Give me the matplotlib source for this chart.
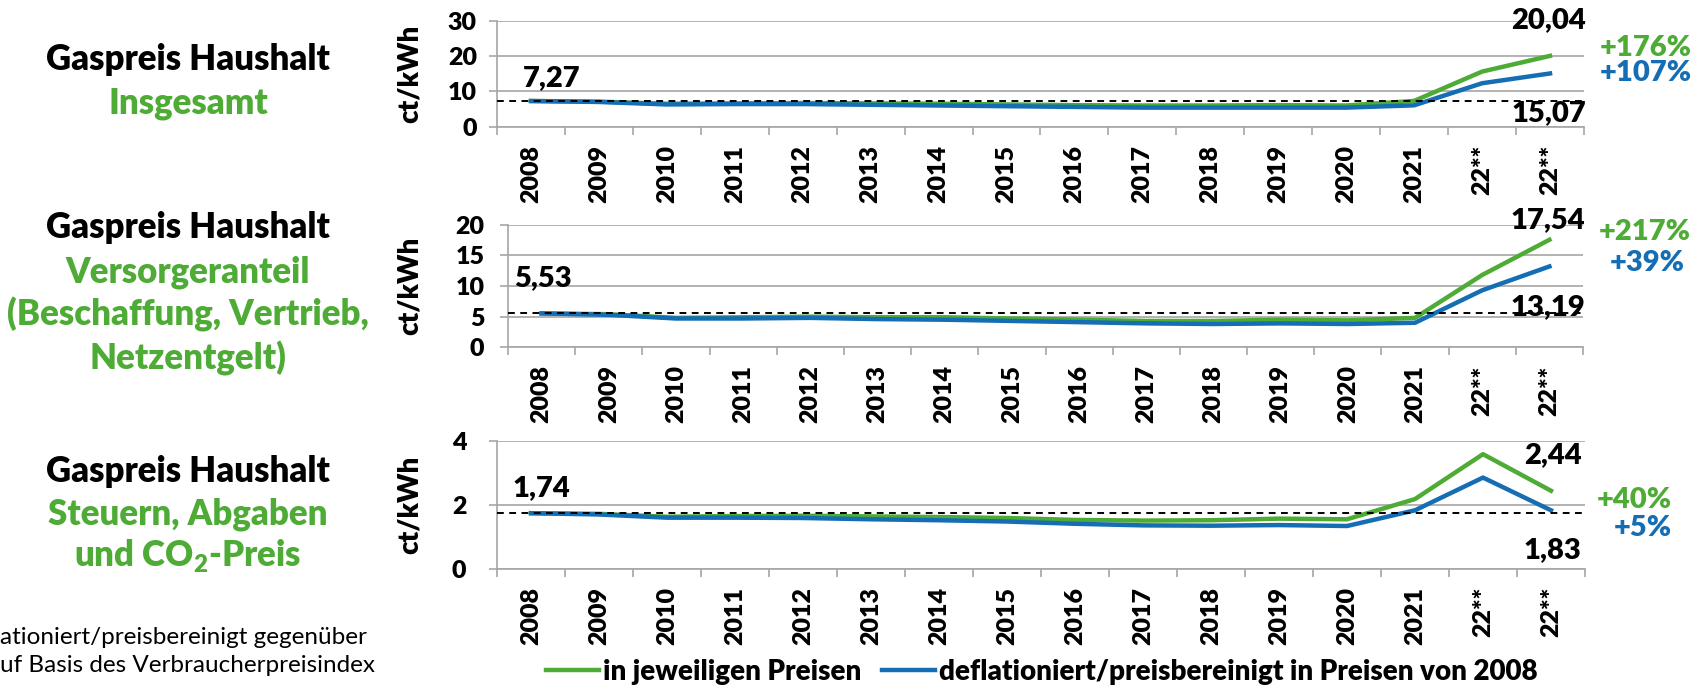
import numpy as np
import matplotlib
matplotlib.use("Agg")
import matplotlib.pyplot as plt

BOLD = 'heavy'
plt.rcParams['font.family'] = ['Lato', 'DejaVu Sans']
plt.rcParams['font.weight'] = BOLD
plt.rcParams['mathtext.fontset'] = 'custom'
plt.rcParams['mathtext.rm'] = 'Lato'
plt.rcParams['mathtext.bf'] = 'Lato:heavy'

# categories
years = ['2008', '2009', '2010', '2011', '2012', '2013', '2014', '2015',
         '2016', '2017', '2018', '2019', '2020', '2021', '22**', '22**']

# Insgesamt
total_nom = [7.27, 7.1, 6.5, 6.6, 6.7, 6.6, 6.5, 6.3, 6.1, 6.0, 6.0, 6.1, 6.0, 7.3, 15.6, 20.04]
total_real = [7.27, 7.0, 6.3, 6.4, 6.4, 6.2, 6.0, 5.8, 5.6, 5.4, 5.4, 5.4, 5.4, 6.05, 12.3, 15.07]

# Versorgeranteil
supp_nom = [5.53, 5.4, 4.8, 4.9, 5.0, 4.9, 4.9, 4.7, 4.5, 4.3, 4.3, 4.5, 4.4, 4.8, 11.8, 17.54]
supp_real = [5.53, 5.3, 4.7, 4.7, 4.8, 4.6, 4.5, 4.3, 4.1, 3.9, 3.8, 3.9, 3.8, 4.0, 9.3, 13.19]

# Steuern, Abgaben, CO2
tax_nom = [1.74, 1.72, 1.63, 1.65, 1.66, 1.64, 1.62, 1.59, 1.53, 1.51, 1.52, 1.57, 1.55, 2.18, 3.58, 2.44]
tax_real = [1.74, 1.70, 1.60, 1.60, 1.59, 1.55, 1.52, 1.48, 1.41, 1.36, 1.35, 1.37, 1.34, 1.83, 2.85, 1.83]

green = '#4EAB35'
blue = '#156DB4'
grey = '#A6A6A6'

W, H = 1691, 687
fig = plt.figure(figsize=(W / 100, H / 100), dpi=100)


def px_axes(l, r, t, b):
    return fig.add_axes([l / W, 1 - b / H, (r - l) / W, (b - t) / H])


panels = [
    dict(box=(497, 1584, 20.7, 126.7), nom=total_nom, real=total_real, ymax=30, yt=[0, 10, 20, 30],
         ypad=8.5, first='7,27', first_off=(-5.8, 16.6), nom_lbl='20,04', nom_off=(26, 26),
         real_lbl='15,07', real_off=(26, -28.4),
         pct_nom='+176%', pn_off=(69, 5.8), pct_real='+107%', pr_off=(69, 0), pct_ha='center'),
    dict(box=(508, 1583, 224.7, 347.3), nom=supp_nom, real=supp_real, ymax=20, yt=[0, 5, 10, 15, 20],
         ypad=11, first='5,53', first_off=(-19.9, 25.5), nom_lbl='17,54', nom_off=(25.5, 14.3),
         real_lbl='13,19', real_off=(25.5, -29.2),
         pct_nom='+217%', pn_off=(68.7, 5.6), pct_real='+39%', pr_off=(70.8, 2.4), pct_ha='center'),
    dict(box=(497, 1585, 440.7, 569), nom=tax_nom, real=tax_real, ymax=4, yt=[0, 2, 4],
         ypad=16, first='1,74', first_off=(-13, 18.1), nom_lbl='2,44', nom_off=(22, 25.7),
         real_lbl='1,83', real_off=(22, -28.6),
         pct_nom='+40%', pn_off=(87, -6.7), pct_real='+5%', pr_off=(87, -12.7), pct_ha='right'),
]

x = np.arange(len(years))
for p in panels:
    ax = px_axes(*p['box'])
    ax.plot(x, p['nom'], color=green, lw=3.2, solid_joinstyle='round', zorder=3,
            label='in jeweiligen Preisen')
    ax.plot(x, p['real'], color=blue, lw=3.2, solid_joinstyle='round', zorder=4,
            label='deflationiert/preisbereinigt in Preisen von 2008')
    ax.axhline(p['nom'][0], color='black', lw=1.4, ls=(0, (3.5, 2.8)), zorder=5)
    ax.set_xlim(-0.5, len(years) - 0.5)
    ax.set_ylim(0, p['ymax'])
    ax.set_yticks(p['yt'])
    ax.set_xticks(x)
    ax.set_xticklabels(years, rotation=90, fontsize=18, fontweight=BOLD)
    ax.set_xticks(np.arange(-0.5, len(years)), minor=True)
    ax.tick_params(axis='x', which='major', length=0, pad=13)
    ax.tick_params(axis='x', which='minor', length=6, color=grey, width=1.2)
    ax.tick_params(axis='y', length=6, color=grey, width=1.2, labelsize=18, pad=p['ypad'])
    for lab in ax.get_yticklabels():
        lab.set_fontweight(BOLD)
    ax.grid(axis='y', color=grey, lw=1.2, zorder=0)
    for s in ['top', 'right']:
        ax.spines[s].set_visible(False)
    for s in ['left', 'bottom']:
        ax.spines[s].set_color(grey)
        ax.spines[s].set_linewidth(1.2)
    l, r, t, b = p['box']
    fig.text(410 / W, 1 - (t + b) / 2 / H, 'ct/kWh', rotation=90, ha='center', va='center',
             fontsize=20, fontweight=BOLD)

    kw = dict(textcoords='offset points', fontsize=21, fontweight=BOLD, va='center',
              annotation_clip=False)
    ax.annotate(p['first'], (0, p['nom'][0]), xytext=p['first_off'], ha='left', **kw)
    ax.annotate(p['nom_lbl'], (15, p['nom'][-1]), xytext=p['nom_off'], ha='right', **kw)
    ax.annotate(p['real_lbl'], (15, p['real'][-1]), xytext=p['real_off'], ha='right', **kw)
    ax.annotate(p['pct_nom'], (15, p['nom'][-1]), xytext=p['pn_off'], ha=p['pct_ha'],
                color=green, **kw)
    ax.annotate(p['pct_real'], (15, p['real'][-1]), xytext=p['pr_off'], ha=p['pct_ha'],
                color=blue, **kw)


# left side titles
def fig_txt(xp, yp, s, c='black'):
    fig.text(xp / W, 1 - yp / H, s, ha='center', va='center', fontsize=25,
             fontweight=BOLD, color=c)


fig_txt(188, 59, 'Gaspreis Haushalt')
fig_txt(188, 104, 'Insgesamt', green)
fig_txt(188, 228, 'Gaspreis Haushalt')
fig_txt(188, 272, 'Versorgeranteil', green)
fig_txt(188, 314, '(Beschaffung, Vertrieb,', green)
fig_txt(188, 358, 'Netzentgelt)', green)
fig_txt(188, 471, 'Gaspreis Haushalt')
fig_txt(188, 514, 'Steuern, Abgaben', green)
fig_txt(188, 556, r'und CO$_\mathbf{2}$-Preis', green)

# footnote (cut at the left edge in the original)
fig.text(0, 1 - 637 / H, 'ationiert/preisbereinigt gegenüber', ha='left', va='center',
         fontsize=17.5, fontweight='normal')
fig.text(0, 1 - 666 / H, 'uf Basis des Verbraucherpreisindex', ha='left', va='center',
         fontsize=17.5, fontweight='normal')

h, lbl = ax.get_legend_handles_labels()
fig.legend(h, lbl, loc='center', bbox_to_anchor=(1042 / W, 1 - 672 / H), ncol=2, frameon=False,
           handlelength=1.9, handletextpad=0.15, columnspacing=0.75,
           prop={'weight': BOLD, 'size': 20})

fig.savefig('out.png', dpi=100)
